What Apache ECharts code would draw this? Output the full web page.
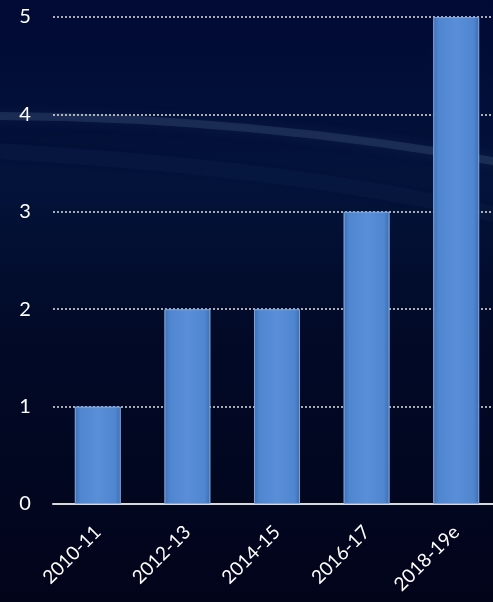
<!DOCTYPE html>
<html><head><meta charset="utf-8">
<script src="https://cdn.jsdelivr.net/npm/echarts@6/dist/echarts.min.js"></script>
<style>html,body{margin:0;padding:0;background:#020828;overflow:hidden;}#c{width:501px;height:602px;}</style>
</head><body><div id="c"></div>
<script>
var categories = ['2010-11','2012-13','2014-15','2016-17','2018-19e'];
var values = [1, 2, 2, 3, 5];
var yTicks = [0, 1, 2, 3, 4, 5];

var chart = echarts.init(document.getElementById('c'));
var font = 'Lato, "Open Sans", sans-serif';
chart.setOption({
  backgroundColor: {
    type: 'linear', x: 0, y: 0, x2: 0, y2: 1,
    colorStops: [
      {offset: 0, color: '#010a35'},
      {offset: 0.3, color: '#03133a'},
      {offset: 0.55, color: '#020a28'},
      {offset: 1, color: '#02041a'}
    ]
  },
  graphic: [
    {
      type: 'bezierCurve', silent: true, z: -10,
      shape: {x1: -20, y1: 116, cpx1: 150, cpy1: 116, cpx2: 330, cpy2: 130, x2: 520, y2: 166},
      style: {stroke: 'rgba(120,150,185,0.18)', lineWidth: 8, fill: null, shadowBlur: 14, shadowColor: 'rgba(140,170,210,0.45)'}
    },
    {
      type: 'bezierCurve', silent: true, z: -10,
      shape: {x1: -20, y1: 150, cpx1: 150, cpy1: 160, cpx2: 330, cpy2: 175, x2: 520, y2: 220},
      style: {stroke: 'rgba(80,110,150,0.06)', lineWidth: 16, fill: null, shadowBlur: 20, shadowColor: 'rgba(100,130,170,0.2)'}
    }
  ],
  grid: {left: 53, top: 17, bottom: 98, right: 0},
  xAxis: {
    type: 'category', data: categories,
    axisLine: {lineStyle: {color: '#d9d9d9', width: 2}},
    axisTick: {show: false},
    axisLabel: {color: '#ffffff', fontSize: 19, fontFamily: font, rotate: 45, margin: 25, interval: 0}
  },
  yAxis: {
    type: 'value', min: yTicks[0], max: yTicks[yTicks.length-1], interval: 1,
    axisLine: {show: false}, axisTick: {show: false},
    axisLabel: {color: '#ffffff', fontSize: 20, fontFamily: font, margin: 28, align: 'center'},
    splitLine: {lineStyle: {color: '#e0e0e0', type: [2, 2], width: 1.5}}
  },
  series: [{
    type: 'bar', data: values, barWidth: 46,
    itemStyle: {
      color: {
        type: 'linear', x: 0, y: 0, x2: 1, y2: 0,
        colorStops: [
          {offset: 0, color: '#3e6fb3'},
          {offset: 0.12, color: '#4f86cf'},
          {offset: 0.5, color: '#5a8fd8'},
          {offset: 0.88, color: '#4f86cf'},
          {offset: 1, color: '#3c6cae'}
        ]
      },
      borderColor: 'rgba(130,170,225,0.7)', borderWidth: 1
    }
  }]
});
</script></body></html>
